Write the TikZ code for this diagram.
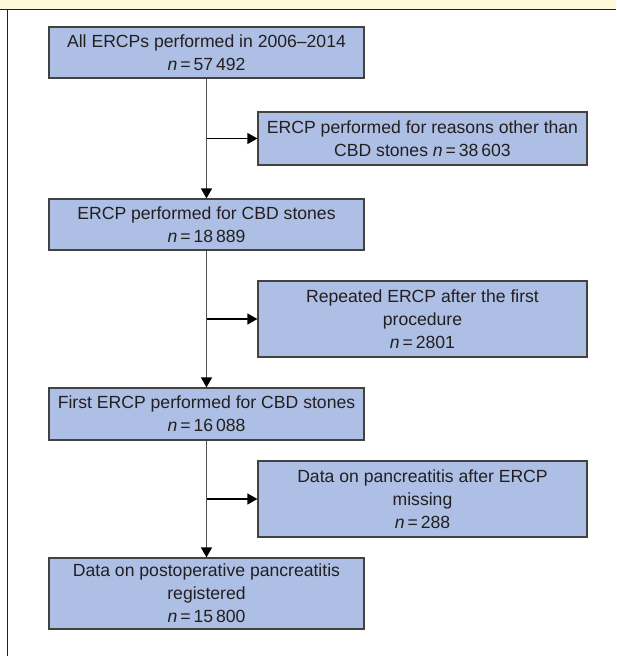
\documentclass[tikz,border=0pt]{standalone}
\usepackage{fontspec}
\setmainfont{Liberation Sans}
\usetikzlibrary{arrows.meta}

\definecolor{boxblue}{RGB}{173,191,228}
\definecolor{bandyellow}{RGB}{255,249,219}
\definecolor{textgray}{RGB}{35,31,32}
\definecolor{linegray}{RGB}{85,85,85}

\begin{document}
\begin{tikzpicture}[x=1pt, y=-1pt,
    box/.style={draw=textgray!85, fill=boxblue, line width=1.2pt, align=center,
        inner sep=0pt, text=textgray, font=\fontsize{17.6}{23}\selectfont},
    leftbox/.style={box, minimum width=315pt},
    rightbox/.style={box, minimum width=329pt},
    trunk/.style={draw=linegray, line width=1.2pt, -{Triangle[length=10pt,width=11pt,color=black]}},
    branch/.style={draw=black, line width=1.2pt, -{Triangle[length=10pt,width=11pt]}}]

    \useasboundingbox (0,0) rectangle (616,656);

    % Frame: yellow band on top and left rule
    \fill[bandyellow] (0,0) rectangle (616,9.5);
    \draw[textgray, line width=1.5pt] (0,9.5) -- (616,9.5);
    \draw[textgray, line width=1.5pt] (7.5,9.5) -- (7.5,656);

    % Main column
    \node[leftbox, minimum height=51pt] (all) at (206.5,52.5)
        {All ERCPs performed in 2006–2014\\\textit{n}\,=\,57\,492};
    \node[leftbox, minimum height=51pt] (cbd) at (206.5,224.5)
        {ERCP performed for CBD stones\\\textit{n}\,=\,18\,889};
    \node[leftbox, minimum height=52pt] (first) at (206.5,414)
        {First ERCP performed for CBD stones\\\textit{n}\,=\,16\,088};
    \node[leftbox, minimum height=71pt] (registered) at (206.5,593.5)
        {Data on postoperative pancreatitis\\registered\\\textit{n}\,=\,15\,800};

    % Exclusions
    \node[rightbox, minimum height=53pt] (other) at (422.5,138.5)
        {ERCP performed for reasons other than\\CBD stones \textit{n}\,=\,38\,603};
    \node[rightbox, minimum height=76pt] (repeated) at (422.5,319)
        {Repeated ERCP after the first\\procedure\\\textit{n}\,=\,2801};
    \node[rightbox, minimum height=76pt] (missing) at (422.5,499)
        {Data on pancreatitis after ERCP\\missing\\\textit{n}\,=\,288};

    % Connectors
    \draw[trunk] (all) -- (cbd);
    \draw[trunk] (cbd) -- (first);
    \draw[trunk] (first) -- (registered);

    \coordinate (j1) at (all.south |- other.west);
    \coordinate (j2) at (cbd.south |- repeated.west);
    \coordinate (j3) at (first.south |- missing.west);
    \draw[branch] (j1) -- (other);
    \draw[branch] (j2) -- (repeated);
    \draw[branch] (j3) -- (missing);

\end{tikzpicture}
\end{document}
